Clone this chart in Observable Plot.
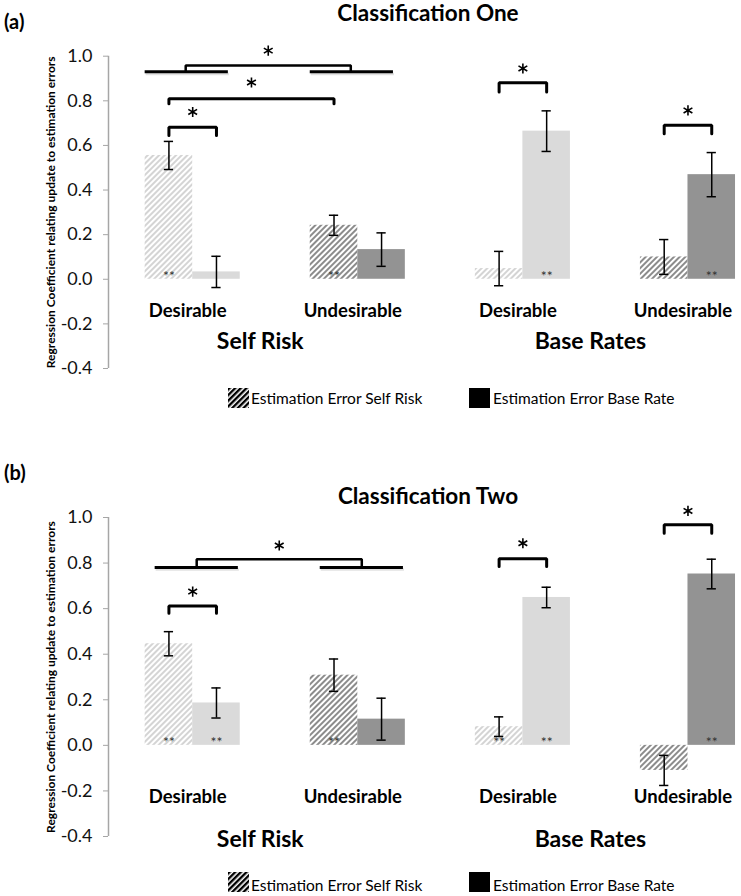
<!DOCTYPE html>
<html><head><meta charset="utf-8">
<script src="https://cdn.jsdelivr.net/npm/d3@7"></script>
<script src="https://cdn.jsdelivr.net/npm/@observablehq/plot@0.6"></script>
<style>
body{margin:0;background:#fff}
#root{position:relative;width:741px;height:896px;overflow:hidden;font-family:Lato,"Open Sans",sans-serif;color:#000}
.abs{position:absolute;line-height:1;white-space:nowrap}
.plabel{font-weight:bold;font-size:20px}
.title{font-weight:bold;font-size:22.5px;transform:translateX(-50%)}
.leg{font-size:15.5px}
.sw{position:absolute;width:21px;height:20px}
.panel{position:absolute;left:0}
</style></head>
<body><div id="root">
<svg width="0" height="0" style="position:absolute">
 <defs>
  <pattern id="hatchLight" patternUnits="userSpaceOnUse" width="4" height="4" patternTransform="rotate(45)"><rect width="4" height="4" fill="#fff"/><rect width="2" height="4" fill="#d4d4d4"/></pattern>
  <pattern id="hatchDark" patternUnits="userSpaceOnUse" width="4" height="4" patternTransform="rotate(45)"><rect width="4" height="4" fill="#fff"/><rect width="2" height="4" fill="#8c8c8c"/></pattern>
  <pattern id="hatchBlack" patternUnits="userSpaceOnUse" width="4" height="4" patternTransform="rotate(45)"><rect width="4" height="4" fill="#fff"/><rect width="2.4" height="4" fill="#000"/></pattern>
 </defs>
</svg>
<div class="abs plabel" style="left:4px;top:11px">(a)</div>
<div class="abs title" style="left:428px;top:2px">Classification One</div>
<div id="panelA" class="panel" style="top:30px"></div>
<div class="sw" style="left:228px;top:388px"><svg width="21" height="20"><rect width="21" height="20" fill="url(#hatchBlack)"/></svg></div>
<div class="abs leg" style="left:251px;top:391px">Estimation Error Self Risk</div>
<div class="sw" style="left:469px;top:388px;background:#000"></div>
<div class="abs leg" style="left:493px;top:391px">Estimation Error Base Rate</div>

<div class="abs plabel" style="left:4px;top:462px">(b)</div>
<div class="abs title" style="left:428px;top:485px">Classification Two</div>
<div id="panelB" class="panel" style="top:495px"></div>
<div class="sw" style="left:228px;top:872px"><svg width="21" height="20"><rect width="21" height="20" fill="url(#hatchBlack)"/></svg></div>
<div class="abs leg" style="left:251px;top:878px">Estimation Error Self Risk</div>
<div class="sw" style="left:469px;top:872px;background:#000"></div>
<div class="abs leg" style="left:493px;top:878px">Estimation Error Base Rate</div>
</div>
<script>
// ---- data ----
const categories = ["Desirable", "Undesirable", "Desirable", "Undesirable"];
const groups = ["Self Risk", "Base Rates"];
const shade = ["light", "dark", "light", "dark"];
const seriesNames = ["Estimation Error Self Risk", "Estimation Error Base Rate"];
const yTicks = [-0.4, -0.2, 0, 0.2, 0.4, 0.6, 0.8, 1.0];
const yTitle = "Regression Coefficient relating update to estimation errors";

// Panel (a) Classification One
const aSelf    = [0.555, 0.242, 0.048, 0.100];
const aSelfErr = [0.063, 0.045, 0.077, 0.078];
const aBase    = [0.033, 0.133, 0.664, 0.469];
const aBaseErr = [0.070, 0.075, 0.091, 0.099];
const aSelfSig = [true, true, false, false];
const aBaseSig = [false, false, true, true];
// brackets: between bar (category c, series s: -1 self, +1 base)
const aPairs = [
  {c1: 0, s1: -1, c2: 0, s2: 1, top: 0.682, leg: 0.645, star: 0.750},
  {c1: 0, s1: -1, c2: 1, s2: -1, top: 0.809, leg: 0.787, star: 0.882},
  {c1: 2, s1: -1, c2: 2, s2: 1, top: 0.881, leg: 0.839, star: 0.945},
  {c1: 3, s1: -1, c2: 3, s2: 1, top: 0.690, leg: 0.652, star: 0.757}
];
const aGroup = {c1: 0, c2: 1, line: 0.930, top: 0.958, star: 1.025};

// Panel (b) Classification Two
const bSelf    = [0.446, 0.308, 0.082, -0.110];
const bSelfErr = [0.053, 0.071, 0.043, 0.066];
const bBase    = [0.186, 0.115, 0.649, 0.752];
const bBaseErr = [0.066, 0.092, 0.045, 0.065];
const bSelfSig = [true, true, true, false];
const bBaseSig = [true, false, true, true];
const bPairs = [
  {c1: 0, s1: -1, c2: 0, s2: 1, top: 0.612, leg: 0.580, star: 0.675},
  {c1: 2, s1: -1, c2: 2, s2: 1, top: 0.819, leg: 0.785, star: 0.887},
  {c1: 3, s1: -1, c2: 3, s2: 1, top: 0.968, leg: 0.931, star: 1.029}
];
const bGroup = {c1: 0, c2: 1, line: 0.781, top: 0.817, star: 0.877};

// ---- drawing ----
const barW = 0.288, half = barW / 2, cap = 0.028;
const xDomain = [-0.51, 3.3];
const FONT = "Lato, 'Open Sans', sans-serif";

function panel(cfg) {
  const rows = [];
  categories.forEach((cat, i) => {
    rows.push({i, s: -1, x1: i - barW, x2: i, xc: i - half, v: cfg.self[i], e: cfg.selfErr[i], sig: cfg.selfSig[i],
      fill: shade[i] === "light" ? "url(#hatchLight)" : "url(#hatchDark)"});
    rows.push({i, s: 1, x1: i, x2: i + barW, xc: i + half, v: cfg.base[i], e: cfg.baseErr[i], sig: cfg.baseSig[i],
      fill: shade[i] === "light" ? "#dadada" : "#939393"});
  });
  const bx = (c, s) => c + s * half;
  const pairPts = cfg.pairs.flatMap((b, k) => [
    {k, x: bx(b.c1, b.s1), y: b.leg}, {k, x: bx(b.c1, b.s1), y: b.top},
    {k, x: bx(b.c2, b.s2), y: b.top}, {k, x: bx(b.c2, b.s2), y: b.leg}]);
  const pairStars = cfg.pairs.map(b => ({x: (bx(b.c1, b.s1) + bx(b.c2, b.s2)) / 2, y: b.star}));
  const g = cfg.group;
  const gLines = [g.c1, g.c2].map(c => ({x1: c - barW, x2: c + 0.75 * barW, y: g.line}));
  const gPts = [{x: g.c1, y: g.line}, {x: g.c1, y: g.top}, {x: g.c2, y: g.top}, {x: g.c2, y: g.line}];
  const caps = rows.flatMap(d => [{xc: d.xc, y: d.v - d.e}, {xc: d.xc, y: d.v + d.e}]);

  return Plot.plot({
    width: 741, height: cfg.height,
    marginLeft: 108, marginRight: 4, marginTop: cfg.marginTop, marginBottom: cfg.marginBottom,
    style: {fontFamily: FONT, background: "transparent", overflow: "visible"},
    x: {domain: xDomain, axis: null},
    y: {domain: [-0.4, 1.0]},
    color: {type: "identity"},
    marks: [
      Plot.ruleX([xDomain[0]], {y1: -0.4, y2: 1.0, stroke: "#a6a6a6", strokeWidth: 1.5}),
      Plot.axisY({ticks: yTicks, tickSize: 5, tickPadding: 11, tickFormat: d => d.toFixed(1),
        fontSize: 18, stroke: "#a6a6a6", fill: "#111", label: null}),
      Plot.rectY(rows, {x1: "x1", x2: "x2", y1: 0, y2: "v", fill: "fill"}),
      Plot.ruleX(rows, {x: "xc", y1: d => d.v - d.e, y2: d => d.v + d.e, stroke: "#000", strokeWidth: 1.5}),
      Plot.ruleY(caps, {y: "y", x1: d => d.xc - cap, x2: d => d.xc + cap, stroke: "#000", strokeWidth: 1.5}),
      Plot.text(rows.filter(d => d.sig), {x: "xc", y: 0, text: () => "**", fontSize: 14, fill: "#333", dy: -3, lineAnchor: "middle"}),
      Plot.line(pairPts, {x: "x", y: "y", z: "k", stroke: "#000", strokeWidth: 3, strokeLinejoin: "miter"}),
      Plot.ruleY(gLines, {x1: "x1", x2: "x2", y: "y", stroke: "#e2e2e2", strokeWidth: 2.5, dx: cfg.lineDx + 1, dy: 2.2}),
      Plot.ruleY(gLines, {x1: "x1", x2: "x2", y: "y", stroke: "#000", strokeWidth: 3, dx: cfg.lineDx}),
      Plot.line(gPts, {x: "x", y: "y", stroke: "#000", strokeWidth: 2.5, strokeLinejoin: "miter", dx: cfg.brDx}),
      Plot.dot(pairStars, {x: "x", y: "y", symbol: "asterisk", r: 4.8, stroke: "#000", strokeWidth: 1.6}),
      Plot.dot([g], {x: d => (d.c1 + d.c2) / 2, y: "star", symbol: "asterisk", r: 4.8, stroke: "#000", strokeWidth: 1.6, dx: cfg.brDx}),
      Plot.text(categories, {x: (d, i) => i, text: d => d, frameAnchor: "bottom", lineAnchor: "middle", dy: cfg.catDy, dx: -5,
        fontWeight: "bold", fontSize: 18.5, fill: "#000"}),
      Plot.text(groups, {x: (d, i) => 2 * i + 0.5, text: d => d, frameAnchor: "bottom", lineAnchor: "middle", dy: cfg.groupDy, dx: -15,
        fontWeight: "bold", fontSize: 23, fill: "#000"}),
      Plot.text([yTitle], {text: d => d, frameAnchor: "left", textAnchor: "middle", lineAnchor: "middle", dx: -57, rotate: -90,
        fontWeight: "bold", fontSize: 12, fill: "#000"})
    ]
  });
}

document.getElementById("panelA").append(panel({
  self: aSelf, selfErr: aSelfErr, base: aBase, baseErr: aBaseErr, selfSig: aSelfSig, baseSig: aBaseSig,
  pairs: aPairs, group: aGroup, lineDx: 0, brDx: -7,
  height: 360, marginTop: 25.7, marginBottom: 22, catDy: -57, groupDy: -27
}));
document.getElementById("panelB").append(panel({
  self: bSelf, selfErr: bSelfErr, base: bBase, baseErr: bBaseErr, selfSig: bSelfSig, baseSig: bBaseSig,
  pairs: bPairs, group: bGroup, lineDx: 10, brDx: 4,
  height: 370, marginTop: 22, marginBottom: 29, catDy: -39, groupDy: 3
}));
</script>
</body></html>
